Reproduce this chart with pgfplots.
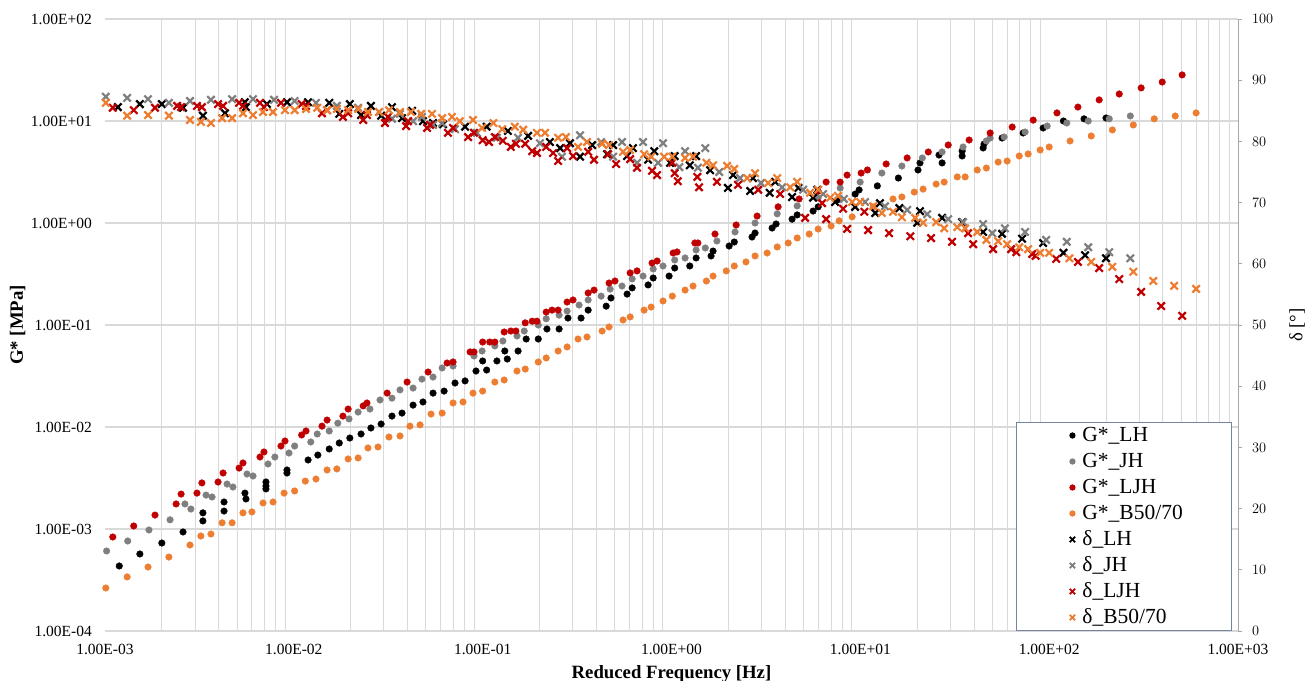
\documentclass[border=0pt]{standalone}
\usepackage{fontspec}
\setmainfont{Liberation Serif}
\usepackage{pgfplots}
\pgfplotsset{compat=1.18}
\definecolor{cG}{RGB}{127,127,127}
\definecolor{cR}{RGB}{192,0,0}
\definecolor{cO}{RGB}{237,125,49}
\definecolor{cLeg}{RGB}{118,134,160}
\definecolor{cGrid}{RGB}{217,217,217}
\definecolor{cAx}{RGB}{166,166,166}
\begin{document}
\begin{tikzpicture}
\useasboundingbox (-105bp,-50bp) rectangle (1206bp,631bp);
\begin{axis}[width=1133bp,height=612bp,scale only axis, xmode=log, xmin=1e-3,xmax=1e3, clip=false, at={(0bp,0bp)}, anchor=south west,
 ymode=log, ymin=1e-4, ymax=1e2,
 xtick={1e-3,1e-2,1e-1,1,1e1,1e2,1e3},
 xticklabels={1.00E-03,1.00E-02,1.00E-01,1.00E+00,1.00E+01,1.00E+02,1.00E+03},
 ytick={1e-4,1e-3,1e-2,1e-1,1,1e1,1e2},
 yticklabels={1.00E-04,1.00E-03,1.00E-02,1.00E-01,1.00E+00,1.00E+01,1.00E+02},
 minor xtick={2e-3,3e-3,4e-3,5e-3,6e-3,7e-3,8e-3,9e-3,2e-2,3e-2,4e-2,5e-2,6e-2,7e-2,8e-2,9e-2,2e-1,3e-1,4e-1,5e-1,6e-1,7e-1,8e-1,9e-1,2,3,4,5,6,7,8,9,20,30,40,50,60,70,80,90,200,300,400,500,600,700,800,900},
 xminorgrids, ymajorgrids,
 major grid style={draw=cGrid, line width=1.1bp},
 minor grid style={draw=cGrid, line width=0.9bp},
 axis line style={draw=none}, major tick length=0pt, minor tick length=0pt,
 tick label style={font=\fontsize{15.5bp}{18bp}\selectfont},
 xticklabel style={inner sep=0pt, anchor=north, yshift=-13bp},
 yticklabel style={inner sep=0pt, anchor=east, xshift=-13bp},
 xlabel={Reduced Frequency [Hz]},
 ylabel={G* [MPa]},
 xlabel style={at={(axis description cs:0.5,-0.0768)}, anchor=base, font=\bfseries\fontsize{18.75bp}{22bp}\selectfont},
 ylabel style={at={(axis description cs:-0.0772,0.5)}, anchor=center, font=\bfseries\fontsize{18.75bp}{22bp}\selectfont},
]
% G*_LH
\addplot[only marks, mark=*, mark size=3.3bp, color=black] coordinates {(1.19e-3,4.34e-4)(1.53e-3,5.69e-4)(2.00e-3,7.29e-4)(2.59e-3,9.35e-4)(3.30e-3,1.44e-3)(3.30e-3,1.20e-3)(4.27e-3,1.84e-3)(4.27e-3,1.50e-3)(5.51e-3,2.25e-3)(5.58e-3,1.97e-3)(7.12e-3,2.89e-3)(7.12e-3,2.64e-3)(7.12e-3,2.47e-3)(9.20e-3,3.79e-3)(9.20e-3,3.54e-3)(1.19e-2,4.75e-3)(1.34e-2,5.31e-3)(1.54e-2,6.09e-3)(1.74e-2,6.97e-3)(1.98e-2,7.80e-3)(2.27e-2,8.54e-3)(2.56e-2,9.78e-3)(2.90e-2,1.07e-2)(3.31e-2,1.28e-2)(3.74e-2,1.37e-2)(4.28e-2,1.64e-2)(4.83e-2,1.76e-2)(5.46e-2,2.15e-2)(6.25e-2,2.25e-2)(7.14e-2,2.70e-2)(8.07e-2,2.83e-2)(9.22e-2,3.54e-2)(1.00e-1,4.44e-2)(1.05e-1,3.62e-2)(1.19e-1,4.44e-2)(1.31e-1,5.56e-2)(1.35e-1,4.64e-2)(1.54e-1,5.56e-2)(1.70e-1,7.29e-2)(1.97e-1,7.29e-2)(2.19e-1,9.14e-2)(2.54e-1,9.14e-2)(2.83e-1,1.17e-1)(3.32e-1,1.17e-1)(3.62e-1,1.40e-1)(4.51e-1,1.53e-1)(4.78e-1,1.84e-1)(5.82e-1,2.01e-1)(6.19e-1,2.31e-1)(7.52e-1,2.47e-1)(8.00e-1,2.89e-1)(9.71e-1,3.02e-1)(1.04,3.62e-1)(1.25,3.79e-1)(1.35,4.54e-1)(1.62,4.75e-1)(1.66,5.31e-1)(2.02,5.95e-1)(2.15,6.51e-1)(2.67,7.29e-1)(2.77,7.98e-1)(3.41,8.93e-1)(3.58,9.78e-1)(4.35,1.09)(4.63,1.20)(5.62,1.31)(5.98,1.44)(7.54,1.68)(9.39,1.92)(9.85,2.11)(12.3,2.31)(15.9,2.76)(20.2,3.31)(20.7,3.88)(26.1,4.64)(27.1,3.88)(34.6,4.54)(34.6,5.08)(44.7,5.44)(45.2,5.95)(56.3,6.81)(72.8,7.63)(92.9,8.54)(119,10.0)(153,10.5)(200,10.7)};
% G*_JH
\addplot[only marks, mark=*, mark size=3.3bp, color=cG] coordinates {(1.02e-3,6.09e-4)(1.32e-3,7.63e-4)(1.71e-3,9.78e-4)(2.21e-3,1.23e-3)(2.65e-3,1.76e-3)(2.85e-3,1.57e-3)(3.43e-3,2.15e-3)(3.69e-3,2.06e-3)(4.43e-3,2.76e-3)(4.76e-3,2.58e-3)(5.65e-3,3.46e-3)(6.08e-3,3.31e-3)(7.30e-3,4.34e-3)(7.94e-3,5.08e-3)(9.43e-3,5.56e-3)(1.01e-2,6.51e-3)(1.23e-2,7.13e-3)(1.33e-2,8.54e-3)(1.54e-2,9.14e-3)(1.71e-2,1.09e-2)(1.96e-2,1.20e-2)(2.19e-2,1.40e-2)(2.53e-2,1.50e-2)(2.86e-2,1.84e-2)(3.31e-2,1.92e-2)(3.65e-2,2.31e-2)(4.28e-2,2.41e-2)(4.77e-2,2.95e-2)(5.46e-2,3.09e-2)(6.10e-2,3.79e-2)(6.97e-2,3.96e-2)(9.00e-2,4.97e-2)(9.93e-2,5.56e-2)(1.16e-1,6.23e-2)(1.28e-1,6.97e-2)(1.52e-1,7.80e-2)(1.66e-1,8.73e-2)(1.97e-1,1.00e-1)(2.17e-1,1.15e-1)(2.54e-1,1.25e-1)(2.80e-1,1.37e-1)(3.24e-1,1.57e-1)(3.62e-1,1.76e-1)(4.24e-1,1.92e-1)(4.73e-1,2.25e-1)(5.47e-1,2.41e-1)(6.19e-1,2.83e-1)(7.07e-1,3.02e-1)(8.00e-1,3.54e-1)(9.02e-1,3.79e-1)(1.04,4.34e-1)(1.18,4.54e-1)(1.35,5.44e-1)(1.51,5.69e-1)(1.74,6.66e-1)(2.17,8.17e-1)(2.77,1.00)(3.63,1.23)(4.63,1.47)(5.98,1.76)(7.82,2.20)(9.98,2.52)(13.0,3.09)(16.6,3.62)(21.3,4.34)(27.1,4.97)(35.0,5.56)(46.5,6.37)(48.7,6.81)(57.7,6.97)(74.6,7.80)(97.6,8.93)(124,9.56)(161,10.0)(208,10.5)(269,11.2)};
% G*_LJH
\addplot[only marks, mark=*, mark size=3.3bp, color=cR] coordinates {(1.10e-3,8.35e-4)(1.42e-3,1.07e-3)(1.84e-3,1.37e-3)(2.38e-3,1.76e-3)(2.53e-3,2.20e-3)(3.07e-3,2.25e-3)(3.26e-3,2.83e-3)(3.97e-3,2.89e-3)(4.22e-3,3.54e-3)(5.13e-3,3.96e-3)(5.38e-3,4.44e-3)(6.62e-3,5.08e-3)(6.95e-3,5.69e-3)(8.55e-3,6.51e-3)(8.98e-3,7.29e-3)(1.10e-2,8.35e-3)(1.16e-2,9.14e-3)(1.41e-2,1.02e-2)(1.50e-2,1.17e-2)(1.82e-2,1.28e-2)(1.94e-2,1.50e-2)(2.33e-2,1.61e-2)(2.44e-2,1.72e-2)(3.12e-2,2.15e-2)(3.98e-2,2.76e-2)(5.14e-2,3.46e-2)(6.48e-2,4.24e-2)(6.97e-2,4.34e-2)(8.58e-2,5.44e-2)(9.00e-2,5.44e-2)(1.00e-1,6.81e-2)(1.09e-1,6.81e-2)(1.16e-1,6.81e-2)(1.30e-1,8.54e-2)(1.41e-1,8.73e-2)(1.50e-1,8.73e-2)(1.68e-1,1.05e-1)(1.83e-1,1.09e-1)(1.94e-1,1.09e-1)(2.17e-1,1.34e-1)(2.33e-1,1.40e-1)(2.51e-1,1.40e-1)(2.80e-1,1.68e-1)(3.01e-1,1.76e-1)(3.62e-1,2.06e-1)(3.89e-1,2.20e-1)(4.67e-1,2.58e-1)(5.02e-1,2.70e-1)(6.04e-1,3.24e-1)(6.57e-1,3.39e-1)(7.89e-1,4.05e-1)(8.39e-1,4.24e-1)(1.02,5.08e-1)(1.07,5.20e-1)(1.33,6.37e-1)(1.38,6.37e-1)(1.70,7.80e-1)(2.20,9.56e-1)(2.84,1.17)(3.67,1.44)(4.74,1.72)(5.98,2.05)(6.59,2.52)(7.82,2.52)(8.51,2.95)(10.1,3.09)(10.9,3.31)(13.7,3.79)(17.7,4.34)(22.9,4.97)(29.2,5.82)(37.7,6.51)(48.7,7.63)(63.7,8.73)(82.3,10.2)(110,12.0)(142,13.7)(184,16.1)(235,18.4)(307,21.1)(397,24.1)(506,28.3)};
% G*_B50/70
\addplot[only marks, mark=*, mark size=3.3bp, color=cO] coordinates {(1.01e-3,2.64e-4)(1.31e-3,3.39e-4)(1.69e-3,4.24e-4)(2.18e-3,5.31e-4)(2.82e-3,6.97e-4)(3.22e-3,8.54e-4)(3.64e-3,8.93e-4)(4.17e-3,1.15e-3)(4.71e-3,1.15e-3)(5.38e-3,1.44e-3)(6.00e-3,1.47e-3)(6.87e-3,1.80e-3)(7.76e-3,1.84e-3)(8.88e-3,2.25e-3)(1.01e-2,2.36e-3)(1.15e-2,2.95e-3)(1.31e-2,3.09e-3)(1.50e-2,3.79e-3)(1.69e-2,3.88e-3)(1.94e-2,4.86e-3)(2.19e-2,4.97e-3)(2.47e-2,6.23e-3)(2.79e-2,6.37e-3)(3.19e-2,7.98e-3)(3.65e-2,8.17e-3)(4.12e-2,1.02e-2)(4.66e-2,1.05e-2)(5.33e-2,1.34e-2)(6.10e-2,1.37e-2)(6.97e-2,1.72e-2)(7.87e-2,1.76e-2)(8.89e-2,2.15e-2)(1.00e-1,2.25e-2)(1.16e-1,2.76e-2)(1.30e-1,2.89e-2)(1.52e-1,3.54e-2)(1.68e-1,3.70e-2)(1.97e-1,4.34e-2)(2.17e-1,4.75e-2)(2.51e-1,5.56e-2)(2.80e-1,6.09e-2)(3.20e-1,7.29e-2)(3.57e-1,7.63e-2)(4.29e-1,8.73e-2)(4.67e-1,9.56e-2)(5.54e-1,1.12e-1)(6.04e-1,1.20e-1)(7.16e-1,1.40e-1)(7.80e-1,1.50e-1)(9.02e-1,1.72e-1)(1.01,1.92e-1)(1.18,2.20e-1)(1.30,2.41e-1)(1.53,2.70e-1)(1.66,3.02e-1)(1.95,3.39e-1)(2.15,3.79e-1)(2.48,4.15e-1)(2.77,4.75e-1)(3.21,5.08e-1)(3.63,5.82e-1)(4.15,6.37e-1)(4.63,7.13e-1)(5.36,7.80e-1)(5.98,8.73e-1)(7.00,9.35e-1)(7.72,1.05)(9.05,1.15)(11.7,1.44)(14.9,1.72)(16.6,1.80)(19.3,2.01)(21.5,2.15)(25.2,2.41)(27.8,2.52)(32.6,2.83)(35.9,2.83)(41.6,3.31)(46.5,3.46)(53.7,3.96)(59.9,4.05)(69.4,4.54)(77.4,4.75)(89.6,5.20)(100,5.56)(129,6.37)(167,7.13)(216,8.17)(279,9.14)(360,10.5)(465,11.2)(600,12.0)};
\end{axis}
\begin{axis}[width=1133bp,height=612bp,scale only axis, xmode=log, xmin=1e-3,xmax=1e3, clip=false, at={(0bp,0bp)}, anchor=south west,
 ymin=0, ymax=100,
 axis x line=none, axis y line*=right,
 ytick={0,10,20,30,40,50,60,70,80,90,100},
 axis line style={draw=cAx, line width=0.9bp},
 tick style={draw=cAx, line width=0.9bp},
 major tick length=4bp, tick align=outside,
 tick label style={font=\fontsize{15.5bp}{18bp}\selectfont},
 yticklabel style={inner sep=0pt, anchor=west, xshift=10bp},
 ylabel={δ [°]},
 ylabel style={at={(axis description cs:1.0521,0.5)}, anchor=center, font=\fontsize{18.75bp}{22bp}\selectfont},
 legend style={at={(0.804,0.3415)}, anchor=north west, draw=cLeg, line width=1bp, fill=white,
   inner xsep=44bp, inner ysep=0bp, font=\fontsize{21.5bp}{24bp}\selectfont,
   nodes={inner ysep=3bp, inner xsep=5bp, text height=16bp, text depth=4bp}},
 legend cell align=left,
 legend image code/.code={\path[draw=none,fill=none] (0bp,0bp) (17bp,0bp); \draw[mark repeat=2,mark phase=2,#1] plot coordinates {(6bp,0bp)(12bp,0bp)(17bp,0bp)};},
]
\addlegendimage{only marks, mark=*, mark size=2.6bp, color=black}
\addlegendentry{G*\_LH}
\addlegendimage{only marks, mark=*, mark size=2.6bp, color=cG}
\addlegendentry{G*\_JH}
\addlegendimage{only marks, mark=*, mark size=2.6bp, color=cR}
\addlegendentry{G*\_LJH}
\addlegendimage{only marks, mark=*, mark size=2.6bp, color=cO}
\addlegendentry{G*\_B50/70}
\addlegendimage{only marks, mark=x, mark size=3.8bp, color=black, mark options={line width=1.8bp}}
\addlegendentry{δ\_LH}
\addlegendimage{only marks, mark=x, mark size=3.8bp, color=cG, mark options={line width=1.8bp}}
\addlegendentry{δ\_JH}
\addlegendimage{only marks, mark=x, mark size=3.8bp, color=cR, mark options={line width=1.8bp}}
\addlegendentry{δ\_LJH}
\addlegendimage{only marks, mark=x, mark size=3.8bp, color=cO, mark options={line width=1.8bp}}
\addlegendentry{δ\_B50/70}
% delta_LH
\addplot[forget plot, only marks, mark=x, mark size=5.2bp, color=black, mark options={line width=2.2bp}] coordinates {(1.17e-3,85.6)(1.53e-3,86.1)(2.00e-3,86.1)(2.59e-3,85.5)(3.30e-3,84.2)(4.32e-3,84.6)(5.50e-3,86.4)(5.58e-3,85.6)(7.21e-3,86.1)(9.20e-3,86.4)(1.19e-2,86.4)(1.54e-2,86.3)(1.74e-2,84.5)(1.98e-2,86.1)(2.27e-2,84.3)(2.56e-2,85.8)(2.90e-2,84.2)(3.31e-2,85.6)(3.74e-2,83.8)(4.23e-2,85.0)(4.83e-2,83.3)(5.46e-2,83.0)(6.17e-2,82.8)(8.07e-2,82.4)(1.05e-1,82.4)(1.36e-1,81.7)(1.74e-1,80.9)(2.27e-1,79.9)(2.57e-1,78.9)(2.90e-1,79.7)(3.28e-1,77.5)(3.80e-1,79.4)(4.56e-1,77.9)(4.91e-1,79.4)(5.82e-1,77.6)(6.25e-1,78.9)(7.52e-1,77.0)(8.11e-1,78.4)(9.83e-1,76.5)(1.04,77.6)(1.25,76.1)(1.35,77.6)(1.60,75.3)(1.99,72.4)(2.12,74.5)(2.61,71.9)(2.70,74.0)(3.31,71.6)(3.54,73.4)(4.35,70.9)(4.70,72.4)(5.62,70.8)(5.92,72.1)(7.35,70.1)(9.39,69.3)(12.0,68.3)(12.7,69.9)(16.1,69.1)(20.0,66.7)(20.7,68.6)(27.1,67.5)(34.6,66.8)(44.7,65.2)(56.3,64.9)(71.9,64.1)(92.9,63.4)(119,61.8)(155,61.4)(200,60.9)};
% delta_JH
\addplot[forget plot, only marks, mark=x, mark size=5.2bp, color=cG, mark options={line width=2.2bp}] coordinates {(1.01e-3,87.3)(1.31e-3,87.1)(1.69e-3,86.9)(2.18e-3,86.3)(2.82e-3,86.6)(3.64e-3,86.8)(4.71e-3,86.9)(6.08e-3,86.9)(7.86e-3,86.8)(1.01e-2,86.6)(1.31e-2,86.3)(1.69e-2,85.8)(2.19e-2,85.5)(2.83e-2,84.8)(3.31e-2,83.7)(3.65e-2,84.5)(4.28e-2,83.3)(4.77e-2,84.0)(5.46e-2,82.7)(6.10e-2,83.0)(7.14e-2,82.0)(9.33e-2,81.4)(1.19e-1,80.6)(1.54e-1,80.6)(2.01e-1,79.7)(2.63e-1,77.5)(3.28e-1,81.0)(4.24e-1,79.9)(4.91e-1,77.5)(5.47e-1,79.9)(6.57e-1,76.5)(7.07e-1,79.9)(8.49e-1,76.5)(9.02e-1,79.7)(1.10,75.8)(1.18,78.4)(1.38,75.7)(1.51,78.9)(1.79,75.0)(2.31,74.0)(2.98,73.2)(3.85,72.5)(4.98,72.1)(6.35,71.4)(8.19,70.6)(10.6,70.1)(13.5,69.4)(17.7,68.8)(22.6,68.1)(29.2,67.3)(35.0,66.8)(44.7,66.5)(50.0,65.0)(58.3,65.8)(74.6,65.2)(96.4,63.9)(124,63.6)(161,62.7)(208,61.9)(269,60.9)};
% delta_LJH
\addplot[forget plot, only marks, mark=x, mark size=5.2bp, color=cR, mark options={line width=2.2bp}] coordinates {(1.10e-3,85.5)(1.42e-3,85.1)(1.84e-3,85.5)(2.41e-3,85.8)(2.53e-3,85.6)(3.07e-3,85.8)(3.26e-3,85.6)(3.97e-3,86.1)(4.22e-3,85.8)(5.13e-3,86.3)(5.38e-3,85.8)(6.62e-3,86.3)(6.95e-3,85.6)(8.55e-3,86.3)(1.10e-2,86.1)(1.16e-2,85.8)(1.41e-2,84.6)(1.50e-2,85.1)(1.82e-2,84.0)(1.94e-2,84.6)(2.33e-2,83.5)(2.44e-2,84.3)(3.04e-2,83.0)(3.15e-2,84.0)(3.93e-2,82.5)(4.03e-2,83.3)(5.08e-2,82.2)(5.27e-2,82.7)(6.55e-2,81.4)(6.97e-2,82.2)(8.37e-2,80.7)(9.00e-2,81.4)(1.00e-1,80.2)(1.08e-1,79.9)(1.16e-1,80.7)(1.28e-1,80.1)(1.41e-1,79.1)(1.50e-1,79.6)(1.68e-1,79.6)(1.83e-1,78.4)(1.94e-1,78.1)(2.17e-1,79.1)(2.36e-1,78.1)(2.51e-1,76.8)(2.80e-1,78.9)(3.01e-1,77.6)(3.62e-1,78.3)(3.89e-1,77.0)(4.62e-1,77.9)(5.09e-1,76.3)(6.04e-1,77.1)(6.57e-1,75.7)(7.89e-1,75.2)(8.39e-1,74.5)(1.01,76.5)(1.04,74.8)(1.08,73.5)(1.37,74.2)(1.40,72.5)(1.74,73.4)(2.25,72.9)(2.88,72.1)(3.76,71.4)(5.10,67.5)(6.28,69.9)(6.59,67.3)(8.11,69.0)(8.51,65.7)(10.5,68.5)(11.0,65.5)(14.2,65.0)(18.4,64.5)(23.7,64.2)(30.6,63.6)(37.2,65.0)(39.6,63.2)(50.5,62.4)(62.9,62.4)(67.0,61.9)(81.3,61.6)(84.8,61.3)(109,60.8)(142,60.3)(184,59.3)(235,57.5)(307,55.4)(392,53.1)(506,51.5)};
% delta_B50/70
\addplot[forget plot, only marks, mark=x, mark size=5.2bp, color=cO, mark options={line width=2.2bp}] coordinates {(1.01e-3,86.3)(1.31e-3,84.2)(1.69e-3,84.3)(2.18e-3,84.2)(2.82e-3,83.5)(3.22e-3,83.2)(3.64e-3,83.0)(4.17e-3,83.8)(4.71e-3,83.8)(5.38e-3,84.6)(6.08e-3,84.3)(6.87e-3,84.8)(7.76e-3,84.8)(8.98e-3,85.1)(1.01e-2,85.1)(1.16e-2,85.3)(1.33e-2,85.5)(1.50e-2,85.1)(1.69e-2,85.3)(1.94e-2,85.1)(2.19e-2,85.3)(2.47e-2,84.8)(2.83e-2,84.8)(3.19e-2,85.1)(3.65e-2,84.8)(4.17e-2,84.8)(4.72e-2,84.5)(5.39e-2,84.5)(6.10e-2,83.8)(6.88e-2,84.0)(7.57e-2,83.3)(8.89e-2,83.5)(9.93e-2,82.2)(1.14e-1,83.0)(1.27e-1,82.0)(1.48e-1,82.4)(1.64e-1,81.9)(1.94e-1,81.4)(2.14e-1,81.4)(2.51e-1,80.6)(2.76e-1,80.7)(3.20e-1,79.1)(3.57e-1,79.9)(4.29e-1,79.6)(4.67e-1,79.4)(5.54e-1,78.3)(6.04e-1,78.6)(7.16e-1,77.9)(7.80e-1,77.5)(9.14e-1,77.5)(1.01,77.5)(1.18,77.3)(1.30,77.5)(1.53,76.5)(1.66,76.1)(1.97,76.0)(2.15,75.5)(2.52,74.0)(2.77,74.8)(3.25,73.2)(3.63,74.0)(4.25,72.5)(4.63,73.4)(5.42,71.6)(5.98,72.1)(6.92,70.8)(7.61,71.1)(9.05,70.1)(9.98,70.1)(11.7,69.4)(13.0,68.3)(14.9,68.5)(16.6,67.6)(19.5,67.5)(21.5,66.7)(25.2,66.8)(27.8,65.8)(32.6,66.0)(35.9,65.8)(41.6,65.2)(46.5,63.9)(53.7,63.7)(59.9,63.2)(69.4,62.7)(77.4,62.4)(89.6,61.8)(100,61.8)(128,60.9)(167,60.3)(216,59.5)(279,58.7)(356,57.2)(459,56.4)(600,55.9)};
\end{axis}
\end{tikzpicture}
\end{document}
